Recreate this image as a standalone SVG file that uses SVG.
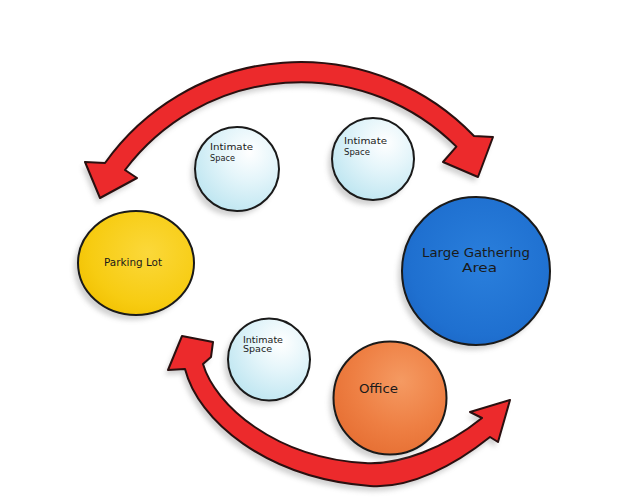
<svg xmlns="http://www.w3.org/2000/svg" width="636" height="498" viewBox="0 0 636 498">
<defs>
<filter id="blur" x="-20%" y="-20%" width="140%" height="140%"><feGaussianBlur stdDeviation="2.5"/></filter>
<radialGradient id="gYellow" cx="0.6" cy="0.4" r="0.7"><stop offset="0" stop-color="#fbd83a"/><stop offset="0.7" stop-color="#f7cc12"/><stop offset="1" stop-color="#f1c000"/></radialGradient>
<radialGradient id="gBlue" cx="0.55" cy="0.45" r="0.7"><stop offset="0" stop-color="#2a7fdc"/><stop offset="0.7" stop-color="#1f70d0"/><stop offset="1" stop-color="#1a62c0"/></radialGradient>
<radialGradient id="gOrange" cx="0.6" cy="0.35" r="0.7"><stop offset="0" stop-color="#f59a62"/><stop offset="0.6" stop-color="#ee7f43"/><stop offset="1" stop-color="#e66f33"/></radialGradient>
<radialGradient id="gCyan" cx="0.65" cy="0.3" r="0.75"><stop offset="0" stop-color="#ffffff"/><stop offset="0.45" stop-color="#e4f5fa"/><stop offset="1" stop-color="#bfe6f1"/></radialGradient>
</defs>
<style>
.node{stroke:#1a1a1a;stroke-width:2}
.shadow{fill:#9a9a9a;opacity:0.45;filter:url(#blur)}
.arrow{fill:#ec2a2c;stroke:#2a1010;stroke-width:2;stroke-linejoin:round}
.lbl{font-family:"DejaVu Sans",sans-serif;fill:#1a1a1a}
.s{font-size:9px}
.m{font-size:12px}
</style>
<rect width="636" height="498" fill="#ffffff"/>
<g id="connectors">
<path class="shadow" transform="translate(-3,5)" d="M105,163 A240,240 0 0 1 474,136 L493,137 L478,177 L443,162 L456.4,146.6 A220,220 0 0 0 125,170 L137,178 L100,198 L85,162 Z"/>
<path class="shadow" transform="translate(-3,5)" d="M185,369 C198,420 265,478 370,486 C410,489 455,465 490,437 L498,442 L510,400 L470,412 L482,418 C445,448 400,465 365,463 C275,458 215,405 203,364 L211,357 L213,342 L182,336 L168,370 Z"/>
<path id="arrow-top" class="arrow" d="M105,163 A240,240 0 0 1 474,136 L493,137 L478,177 L443,162 L456.4,146.6 A220,220 0 0 0 125,170 L137,178 L100,198 L85,162 Z"/>
<path id="arrow-bottom" class="arrow" d="M185,369 C198,420 265,478 370,486 C410,489 455,465 490,437 L498,442 L510,400 L470,412 L482,418 C445,448 400,465 365,463 C275,458 215,405 203,364 L211,357 L213,342 L182,336 L168,370 Z"/>
</g>
<g id="node-parking">
<ellipse class="shadow" cx="132" cy="268" rx="58" ry="52"/>
<ellipse class="node" cx="136" cy="263" rx="58" ry="52" fill="url(#gYellow)"/>
<text class="lbl" x="104" y="266" font-size="11" textLength="58" lengthAdjust="spacingAndGlyphs">Parking Lot</text>
</g>
<g id="node-gathering">
<circle class="shadow" cx="472" cy="276" r="74"/>
<circle class="node" cx="476" cy="271" r="74" fill="url(#gBlue)"/>
<text class="lbl m" x="422" y="257" textLength="108" lengthAdjust="spacingAndGlyphs">Large Gathering</text>
<text class="lbl m" x="462" y="272" textLength="35" lengthAdjust="spacingAndGlyphs">Area</text>
</g>
<g id="node-office">
<circle class="shadow" cx="386" cy="403" r="56.5"/>
<circle class="node" cx="390" cy="398" r="56.5" fill="url(#gOrange)"/>
<text class="lbl m" x="359" y="393" textLength="39" lengthAdjust="spacingAndGlyphs">Office</text>
</g>
<g id="node-intimate-1">
<circle class="shadow" cx="233" cy="174" r="42"/>
<circle class="node" cx="237" cy="169" r="42" fill="url(#gCyan)"/>
<text class="lbl s" x="210" y="150" textLength="43" lengthAdjust="spacingAndGlyphs">Intimate</text>
<text class="lbl s" x="210" y="161" textLength="25" lengthAdjust="spacingAndGlyphs">Space</text>
</g>
<g id="node-intimate-2">
<circle class="shadow" cx="369" cy="164" r="41"/>
<circle class="node" cx="373" cy="159" r="41" fill="url(#gCyan)"/>
<text class="lbl s" x="344" y="144" textLength="43" lengthAdjust="spacingAndGlyphs">Intimate</text>
<text class="lbl s" x="344" y="155" textLength="26" lengthAdjust="spacingAndGlyphs">Space</text>
</g>
<g id="node-intimate-3">
<circle class="shadow" cx="265" cy="364" r="41"/>
<circle class="node" cx="269" cy="359.5" r="41" fill="url(#gCyan)"/>
<text class="lbl s" x="243" y="343" textLength="40" lengthAdjust="spacingAndGlyphs">Intimate</text>
<text class="lbl s" x="243" y="352" textLength="29" lengthAdjust="spacingAndGlyphs">Space</text>
</g>
</svg>
